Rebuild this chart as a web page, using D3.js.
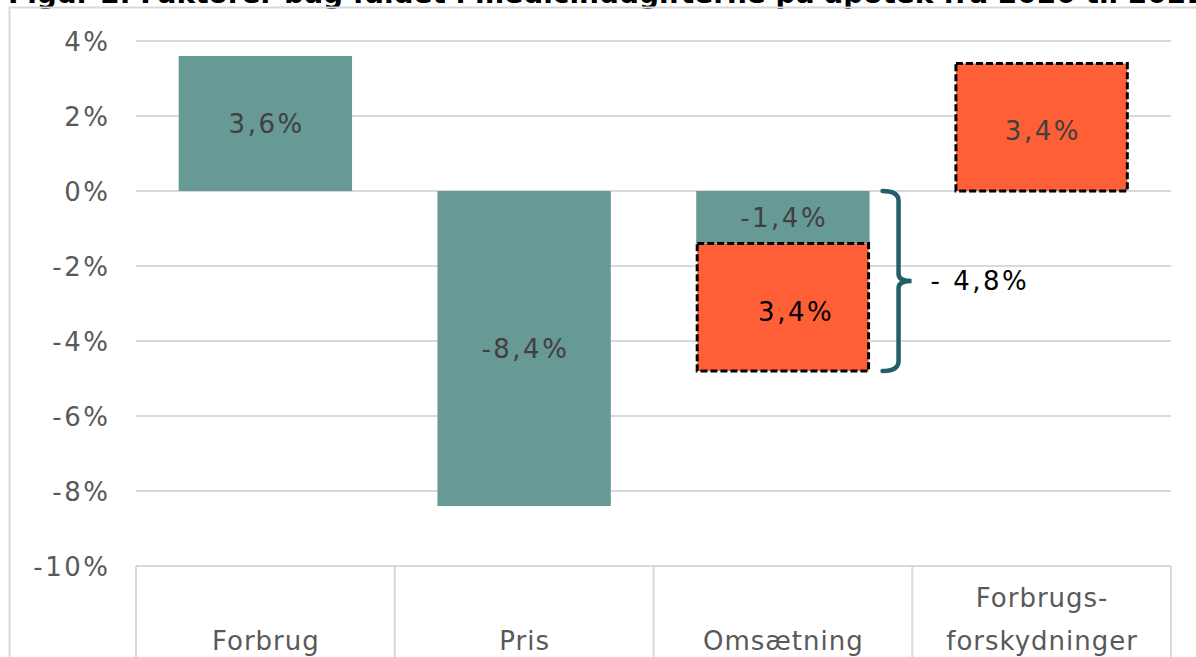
<!DOCTYPE html>
<html>
<head>
<meta charset="utf-8">
<script src="https://cdn.jsdelivr.net/npm/d3@7"></script>
<style>
  body { margin: 0; background: #fff; overflow: hidden; }
  svg { display: block; font-family: "DejaVu Sans", Verdana, sans-serif; }
</style>
</head>
<body>
<script>
// data
const categories = ["Forbrug", "Pris", "Omsætning", "Forbrugs-\nforskydninger"];
const baseValues = [3.6, -8.4, -1.4, 0];        // teal bars
const baseLabels = ["3,6%", "-8,4%", "-1,4%", null];
const shiftValues = [0, 0, -3.4, 3.4];          // orange dashed bars, stacked on teal
const shiftLabels = [null, null, "3,4%", "3,4%"];
const yTicks = [-10, -8, -6, -4, -2, 0, 2, 4];
const braceLabel = "- 4,8%";
const title = "Figur 2. Faktorer bag faldet i medicinudgifterne på apotek fra 2020 til 2021";

const w = 1196, h = 657;
const plotLeft = 136, plotRight = 1171, plotTop = 41, plotBottom = 566;
const ls = 2.5; // extra letter spacing to get Verdana-like widths

const svg = d3.select("body").append("svg")
  .attr("width", w)
  .attr("height", h);

// title, cut by the top edge like in the original
svg.append("text")
  .attr("x", 8)
  .attr("y", 3)
  .attr("font-weight", "bold")
  .attr("font-size", 28)
  .attr("fill", "#000")
  .text(title);

// outer frame
svg.append("rect")
  .attr("x", 9.5)
  .attr("y", 7.5)
  .attr("width", w + 20)
  .attr("height", h + 20)
  .attr("fill", "none")
  .attr("stroke", "#d9d9d9")
  .attr("stroke-width", 2);

const y = d3.scaleLinear().domain([-10, 4]).range([plotBottom, plotTop]);
const x = d3.scaleBand().domain(categories).range([plotLeft, plotRight])
  .paddingInner(0.33).paddingOuter(0.165);
const xCell = d3.scaleBand().domain(categories).range([plotLeft, plotRight]).padding(0);

// gridlines
svg.append("g")
  .selectAll("line")
  .data(yTicks)
  .enter()
  .append("line")
  .attr("x1", plotLeft)
  .attr("x2", plotRight)
  .attr("y1", d => y(d))
  .attr("y2", d => y(d))
  .attr("stroke", "#d9d9d9")
  .attr("stroke-width", 2);

// category cell separators below the axis
const sep = categories.map(c => xCell(c)).concat([plotRight]);
svg.append("g")
  .selectAll("line")
  .data(sep)
  .enter()
  .append("line")
  .attr("x1", d => d)
  .attr("x2", d => d)
  .attr("y1", plotBottom)
  .attr("y2", h + 5)
  .attr("stroke", "#d9d9d9")
  .attr("stroke-width", 2);

// y axis labels
const yAxis = d3.axisLeft(y)
  .tickValues(yTicks)
  .tickSize(0)
  .tickPadding(28 - ls)
  .tickFormat(d => d + "%");

const ya = svg.append("g")
  .attr("transform", "translate(" + plotLeft + ",0)")
  .call(yAxis);
ya.select(".domain").remove();
ya.selectAll("text")
  .attr("font-family", "DejaVu Sans, Verdana, sans-serif")
  .attr("font-size", 26)
  .attr("letter-spacing", ls)
  .attr("fill", "#595959")
  .attr("dy", "0.36em");

// teal bars
svg.append("g")
  .selectAll("rect")
  .data(categories)
  .enter()
  .append("rect")
  .attr("x", c => x(c))
  .attr("width", x.bandwidth())
  .attr("y", (c, i) => y(Math.max(0, baseValues[i])))
  .attr("height", (c, i) => Math.abs(y(baseValues[i]) - y(0)))
  .attr("fill", "#679995");

// orange dashed bars stacked on the teal ones
const shiftStart = (i) => baseValues[i];
const shiftEnd = (i) => baseValues[i] + shiftValues[i];
svg.append("g")
  .selectAll("rect")
  .data(categories.filter((c, i) => shiftValues[i] !== 0))
  .enter()
  .append("rect")
  .attr("x", c => x(c) + 1)
  .attr("width", x.bandwidth() - 2)
  .attr("y", c => {
    const i = categories.indexOf(c);
    return y(Math.max(shiftStart(i), shiftEnd(i)));
  })
  .attr("height", c => {
    const i = categories.indexOf(c);
    return Math.abs(y(shiftStart(i)) - y(shiftEnd(i)));
  })
  .attr("fill", "#ff5f37")
  .attr("stroke", "#000")
  .attr("stroke-width", 3)
  .attr("stroke-dasharray", "7,3");

// value labels
categories.forEach((c, i) => {
  if (baseLabels[i]) {
    svg.append("text")
      .attr("x", x(c) + x.bandwidth() / 2 + ls / 2)
      .attr("y", (y(0) + y(baseValues[i])) / 2)
      .attr("dy", "0.36em")
      .attr("text-anchor", "middle")
      .attr("font-size", 26)
      .attr("letter-spacing", ls)
      .attr("fill", "#404040")
      .text(baseLabels[i]);
  }
  if (shiftLabels[i]) {
    const neg = shiftValues[i] < 0;
    svg.append("text")
      .attr("x", x(c) + x.bandwidth() / 2 + ls / 2 + (neg ? 12 : 0))
      .attr("y", (y(shiftStart(i)) + y(shiftEnd(i))) / 2 + (neg ? 4 : 3))
      .attr("dy", "0.36em")
      .attr("text-anchor", "middle")
      .attr("font-size", 26)
      .attr("letter-spacing", ls)
      .attr("fill", neg ? "#000" : "#404040")
      .text(shiftLabels[i]);
  }
});

// curly brace around the Omsætning total
const oi = 2;
const total = baseValues[oi] + shiftValues[oi];
const bx0 = x(categories[oi]) + x.bandwidth() + 13;
const bx1 = bx0 + 16;
const by0 = y(0), by1 = y(total), bym = (by0 + by1) / 2;
svg.append("path")
  .attr("d",
    "M" + bx0 + "," + by0 +
    " Q" + bx1 + "," + by0 + " " + bx1 + "," + (by0 + 10) +
    " L" + bx1 + "," + (bym - 7) +
    " Q" + bx1 + "," + bym + " " + (bx1 + 13) + "," + bym +
    " Q" + bx1 + "," + bym + " " + bx1 + "," + (bym + 7) +
    " L" + bx1 + "," + (by1 - 10) +
    " Q" + bx1 + "," + by1 + " " + bx0 + "," + by1)
  .attr("fill", "none")
  .attr("stroke", "#215e69")
  .attr("stroke-width", 4.5)
  .attr("stroke-linecap", "round");

svg.append("text")
  .attr("x", bx1 + 32)
  .attr("y", bym)
  .attr("dy", "0.36em")
  .attr("font-size", 26)
  .attr("letter-spacing", ls)
  .attr("fill", "#000")
  .text(braceLabel);

// category labels
categories.forEach(c => {
  const lines = c.split("\n");
  lines.forEach((ln, k) => {
    svg.append("text")
      .attr("x", xCell(c) + xCell.bandwidth() / 2 + 0.5)
      .attr("y", 650 - (lines.length - 1 - k) * 43)
      .attr("text-anchor", "middle")
      .attr("font-size", 26)
      .attr("letter-spacing", 1)
      .attr("fill", "#595959")
      .text(ln);
  });
});
</script>
</body>
</html>
